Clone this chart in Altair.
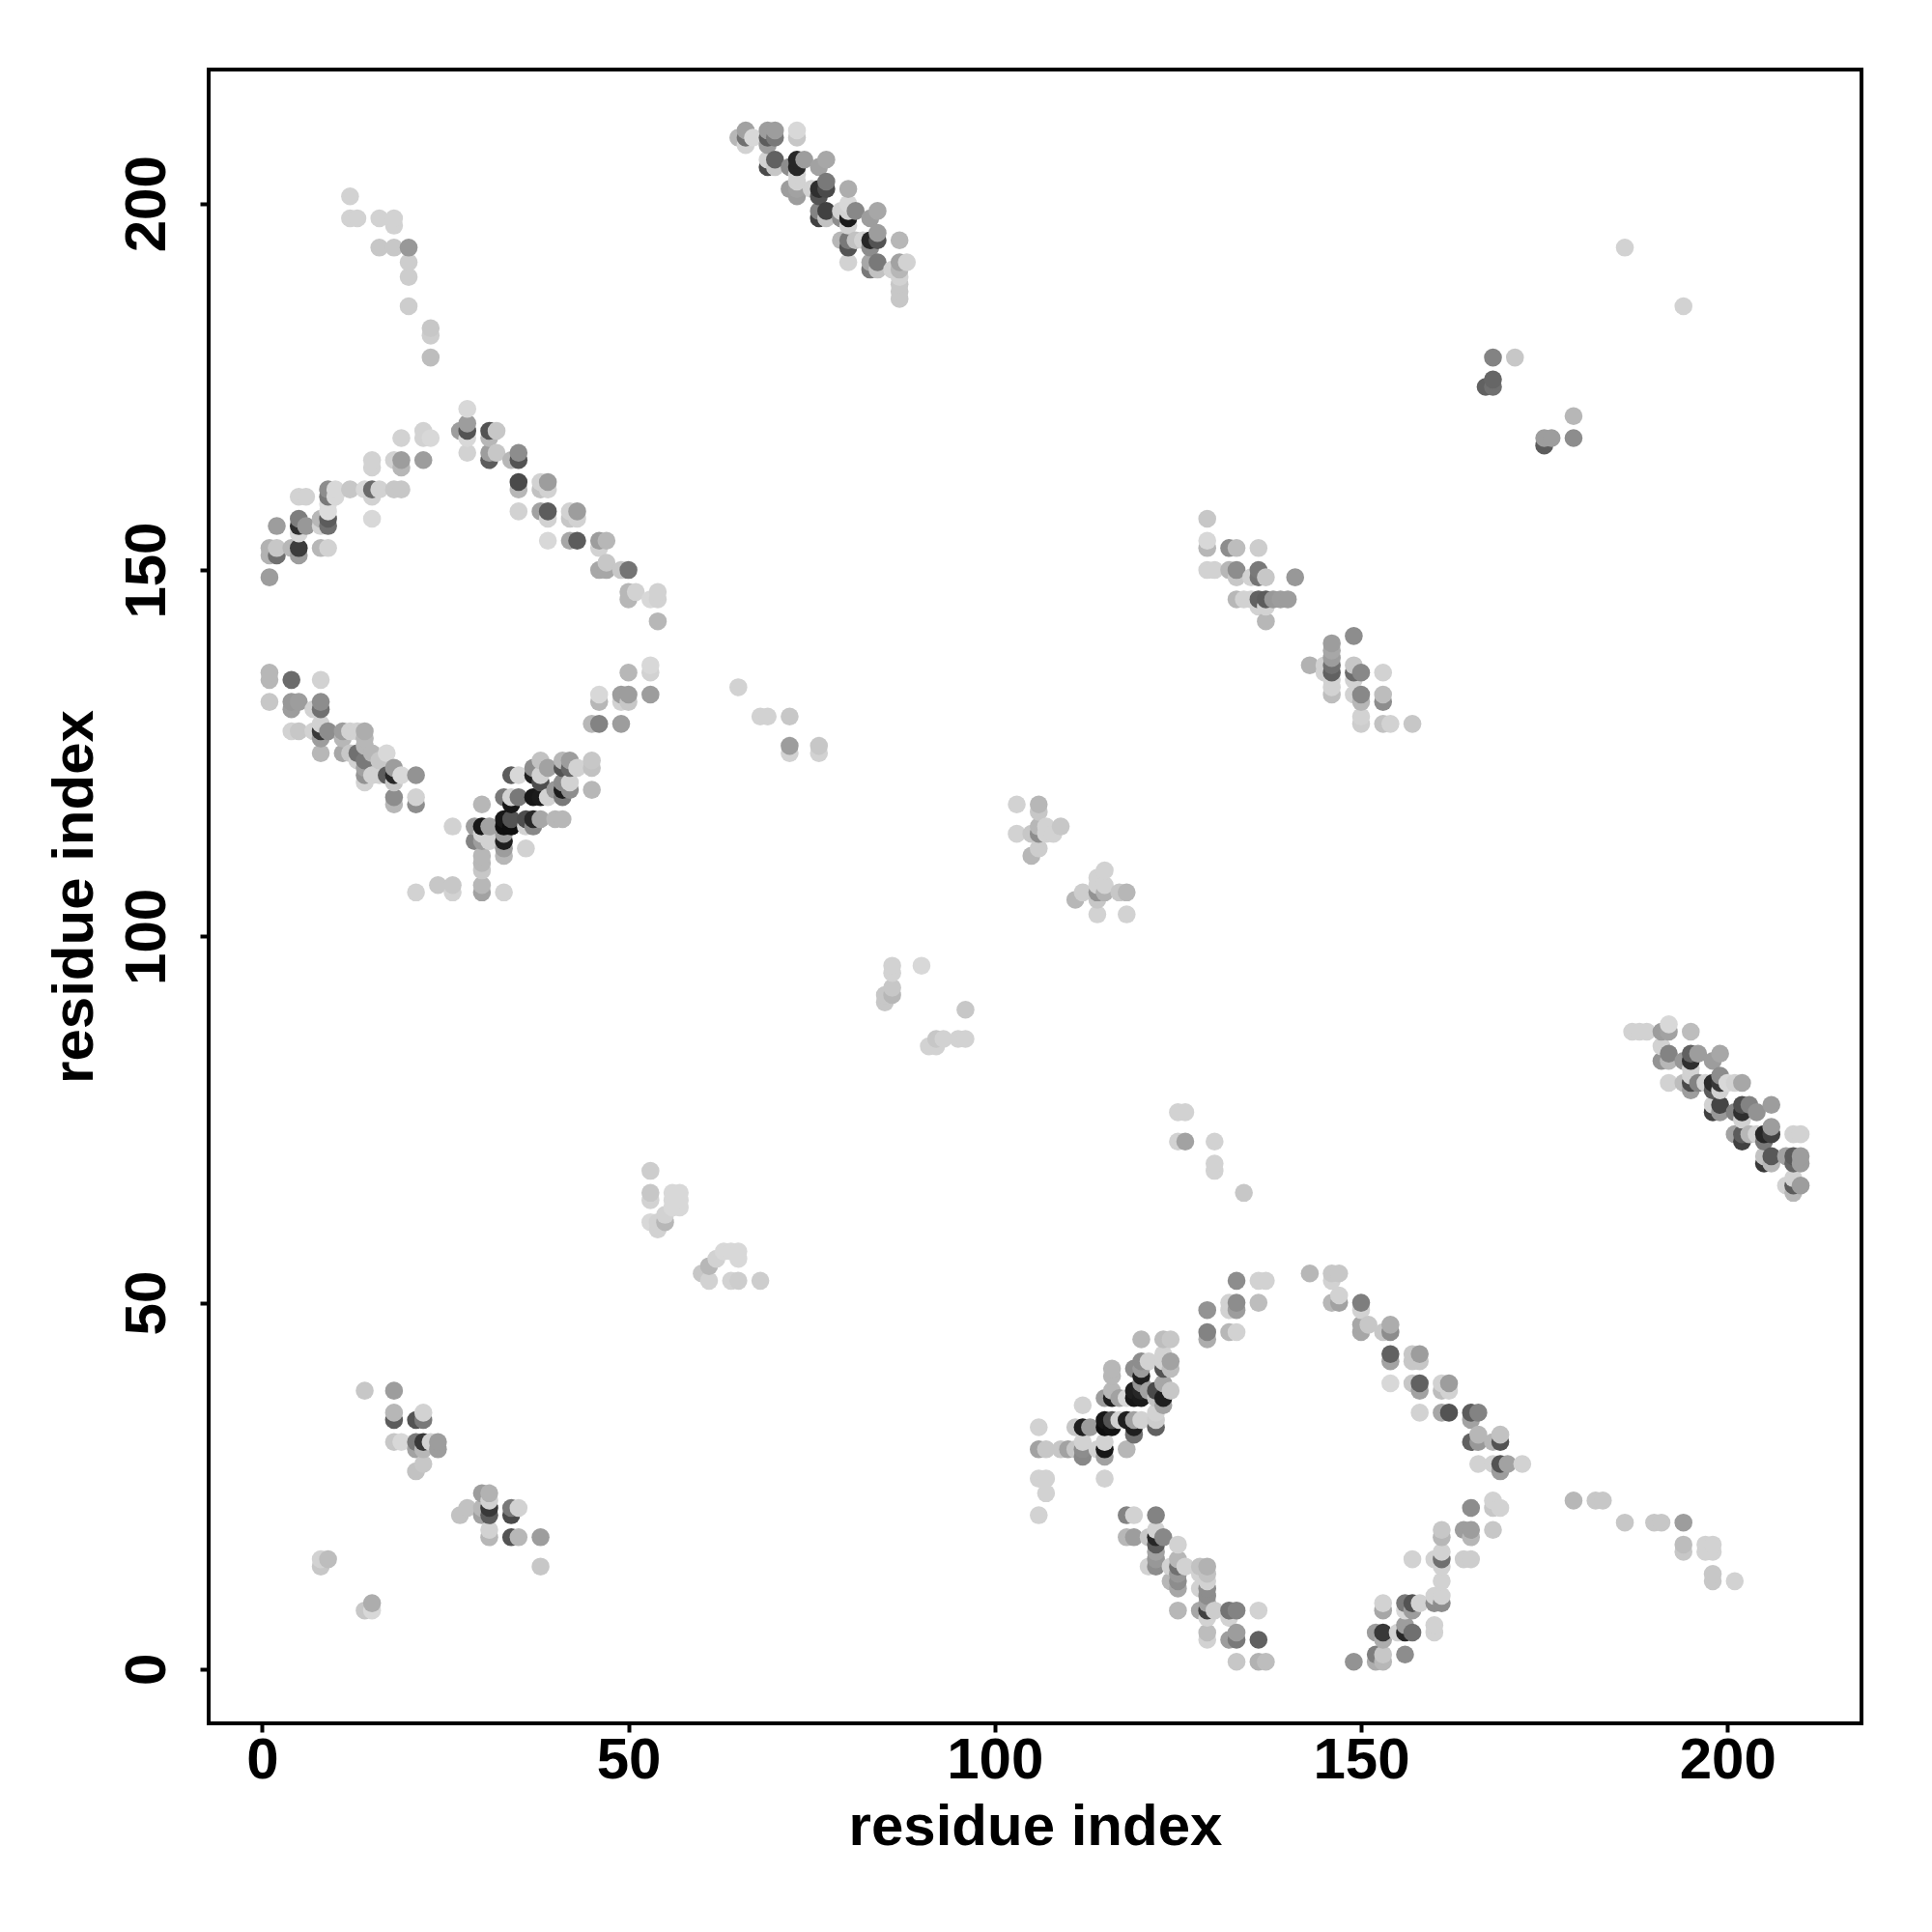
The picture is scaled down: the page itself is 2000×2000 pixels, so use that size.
import altair as alt
import pandas as pd

# (residue i, residue j, grey level 0-255)
upper_arc_left = [(1,149,165),(1,153,185),(2,153,205),(1,152,185),(2,152,120),(2,156,165),(5,153,65),(5,152,165),(4,153,190),
 (5,157,135),(5,156,50),(6,156,160),(5,155,220),(8,153,190),(9,153,215),(8,157,190),(9,157,100),(9,156,120),(9,158,225),(9,159,225),
 (8,156,215),(9,161,150),(9,160,130),(10,161,220),(10,160,220),(5,160,215),(6,160,215),(12,161,205),(14,161,220),(15,161,115),(16,161,215),
 (15,160,215),(15,157,220),(18,161,205),(19,161,205),(15,165,215),(15,164,215),(18,165,215),(19,165,165),(19,164,190),(19,168,215),
 (22,169,215),(22,168,215),(23,168,220),(22,165,165)]
upper_arc_right = [(28,172,220),(27,169,165),(28,170,165),(28,169,90),(28,168,220),(28,166,215),(31,169,90),(32,169,205),(31,168,190),
 (31,166,165),(32,166,205),(31,165,100),(34,165,190),(35,166,150),(35,165,90),(35,162,80),(35,161,190),(38,162,215),(39,162,165),
 (38,161,200),(39,161,215),(35,158,215),(38,158,170),(39,158,100),(39,157,215),(42,158,215),(43,158,165),(42,157,205),(43,157,215),
 (39,154,220),(42,154,175),(43,154,100),(46,154,165),(47,154,190),(46,153,215),(47,151,205),(46,150,175),(47,150,175),(49,150,205),
 (50,150,125),(50,147,190),(51,147,215),(50,146,190),(53,146,220),(54,147,215),(54,146,215),(54,143,190)]
lower_arc_left = [(1,136,190),(1,135,190),(4,135,115),(8,135,215),(1,132,205),(4,132,160),(5,132,165),(4,131,165),(7,131,215),(8,132,150),
 (8,131,120),(4,128,215),(5,128,205),(7,128,215),(8,128,60),(9,128,150),(8,129,215),(8,127,165),(8,125,190),(11,128,165),(12,128,215),
 (13,128,215),(14,128,180),(11,127,190),(14,127,190),(11,125,175),(12,125,205),(13,125,120),(14,126,190),(15,125,190),(17,125,220),
 (16,124,205),(13,124,215),(14,124,130),(14,123,170),(14,122,155),(14,121,215),(15,122,215),(16,122,215),(18,123,165),(17,122,100),(18,122,40),
 (19,122,220),(21,122,155),(18,121,205),(18,119,150),(18,118,190),(21,119,215),(21,118,150)]
lower_arc_right = [(26,115,215),(30,118,190),(29,115,165),(30,115,20),(31,115,170),(30,114,215),(29,113,140),(30,113,165),(31,113,215),
 (30,111,190),(30,110,190),(30,109,205),(30,107,190),(30,106,170),(33,115,10),(34,115,10),(33,116,20),(33,114,165),(33,113,30),(33,112,165),
 (33,111,190),(33,119,130),(34,118,20),(34,119,215),(35,119,130),(34,122,100),(35,122,220),(36,112,215),(34,116,90),(36,116,85),(37,115,145),
 (36,115,215),(37,116,40),(38,116,175),(40,116,190),(41,116,190),(37,123,150),(38,124,200),(39,123,170),(37,122,30),(38,122,215),(38,121,85),
 (37,119,20),(38,119,25),(39,119,215),(40,120,160),(41,119,130),(41,120,25),(42,120,150),(42,121,215),(41,121,150),(41,124,190),(42,124,165),
 (41,123,90),(42,123,110),(43,123,215),(45,124,205),(45,123,200),(45,120,190),(53,137,220),(53,136,215),(50,136,190),(46,133,220),(46,132,190),
 (49,133,165),(50,133,165),(49,132,215),(50,132,205),(53,133,165),(45,129,190),(46,129,140),(49,129,165),(21,106,215),(24,107,205),(26,107,205),
 (26,106,215),(33,106,215)]
upper_left_tail = [(12,201,215),(12,198,215),(13,198,215),(16,198,215),(18,198,215),(18,197,215),(16,194,205),(18,194,205),(20,194,160),
 (20,192,210),(20,190,210),(20,186,210),(23,183,205),(23,182,210),(23,179,195)]
top_band = [(65,209,190),(66,210,170),(66,209,120),(66,208,215),(67,209,220),(69,210,165),(70,210,165),(69,209,100),(70,209,130),(69,208,165),
 (73,210,220),(73,209,205),(70,206,105),(69,206,215),(69,205,80),(70,205,205),(72,205,150),(73,206,40),(74,206,165),(73,205,40),(73,204,215),
 (76,205,170),(77,206,175),(72,202,165),(73,202,170),(73,201,165),(73,203,215),(75,202,215),(76,202,50),(77,203,130),(77,202,80),(76,201,90),
 (80,202,180),(80,200,220),(76,199,140),(77,199,70),(76,198,70),(77,198,200),(79,199,215),(80,198,25),(81,199,145),(79,198,150),(80,197,215),
 (80,199,215),(83,198,165),(84,199,175),(79,195,190),(80,195,130),(80,194,90),(81,195,200),(82,195,215),(80,192,215),(83,195,40),(84,196,165),
 (84,195,90),(83,194,150),(87,195,190),(83,192,175),(84,192,130),(83,191,130),(84,191,200),(86,191,215),(87,192,170),(88,192,215),(87,191,190),
 (87,190,215),(87,189,205),(87,188,205),(87,187,205)]
right_band = [(187,87,215),(188,87,215),(189,87,215),(191,87,165),(192,88,220),(192,87,170),(195,87,195),(191,85,215),(192,84,140),(191,83,155),
 (192,83,190),(194,83,160),(195,84,105),(195,83,50),(196,84,165),(195,82,215),(198,83,165),(199,84,175),(192,80,215),(194,80,195),(195,81,215),
 (195,80,80),(195,79,165),(196,80,140),(197,80,215),(198,80,45),(198,79,100),(199,81,150),(199,80,60),(200,80,220),(199,79,215),(201,80,215),
 (202,80,175),(198,77,215),(198,76,70),(199,77,75),(199,76,160),(201,76,140),(202,77,85),(203,77,140),(202,76,50),(202,75,215),(204,76,155),
 (206,77,165),(201,73,170),(202,73,100),(202,72,70),(203,73,190),(204,73,215),(205,73,40),(205,72,130),(206,74,165),(206,73,70),(209,73,215),
 (210,73,215),(205,70,200),(205,69,60),(206,70,95),(206,69,190),(208,70,170),(209,70,100),(210,70,165),(209,69,110),(210,69,165),(208,66,215),
 (209,67,215),(209,66,100),(209,65,190),(210,66,165)]
lower_v_left_arm = [(133,53,150),(136,53,215),(137,53,215),(129,49,155),(132,50,215),(133,50,150),(133,49,165),(132,49,215),(136,50,195),(129,46,140),
 (129,45,180),(132,46,190),(133,46,215),(120,45,190),(123,45,195),(124,45,205),(123,43,215),(124,42,170),(124,41,195),(123,42,215),(123,41,90),
 (120,42,150),(121,42,215),(119,41,150),(120,41,165),(120,40,30),(120,39,155),(116,41,190),(116,40,190),(115,37,165),(116,38,190),(116,37,30),
 (117,37,170),(118,37,220),(119,37,20),(120,37,25),(121,38,170),(122,38,80),(123,39,175),(124,38,205),(123,37,30),(122,37,200),(123,36,170),
 (119,38,30),(120,38,40),(112,36,215),(106,33,215),(112,33,30),(111,33,205),(113,33,165),(115,34,20),(116,34,90),(115,33,10),(116,33,15),
 (117,34,215),(118,34,30),(119,34,170),(119,33,30),(120,34,215),(119,32,120),(122,35,215),(122,34,210),(122,33,105),(106,30,170),(107,30,205),
 (109,30,205),(110,30,170),(111,30,205),(112,30,150),(112,29,145),(112,31,215),(115,31,215),(115,30,20),(115,29,170),(118,30,190),(114,30,215),
 (106,26,215),(107,26,215),(107,24,215),(115,26,215),(106,21,215)]
lower_v_bottom_left = [(118,21,140),(119,21,215),(122,21,140),(118,18,190),(119,18,165),(121,18,205),(122,18,40),(123,18,145),(122,17,100),(122,19,215),
 (125,17,215),(122,16,170),(121,14,215),(122,14,150),(122,15,160),(124,14,215),(125,15,190),(125,14,120),(126,14,215),(125,13,160),(125,12,150),
 (124,12,190),(125,11,175),(128,14,200),(129,14,185),(129,13,200),(129,12,215),(128,13,215),(128,11,215),(129,11,150),(129,10,150),(129,9,170),
 (125,8,190),(128,8,175),(129,8,70),(130,8,210),(132,8,125),(133,8,140),(136,8,215),(129,7,215),(132,7,215),(129,5,195),(129,4,215),(132,4,165),
 (133,5,165),(133,4,130),(136,4,105),(133,1,205),(136,1,185),(137,1,195)]
lower_v_bottom_right = [(149,1,155),(152,2,135),(152,1,180),(153,2,205),(153,1,190),(156,2,150),(152,5,165),(153,5,60),(153,4,180),(155,5,215),
 (156,5,40),(157,5,120),(156,6,165),(153,9,215),(153,8,175),(156,9,130),(157,9,90),(157,8,165),(156,8,220),(158,9,215),(160,6,215),(160,5,215),
 (160,9,150),(161,9,150),(160,10,215),(161,10,215),(161,12,215),(157,15,215),(160,15,215),(161,16,215),(161,15,120),(161,14,215),(161,19,205),
 (161,18,190),(164,19,165),(165,19,165),(165,18,190),(168,19,205),(164,15,210),(165,15,210),(165,22,150),(168,23,215),(168,22,205),(169,22,215)]
lower_v_right_arm = [(143,54,190),(146,54,205),(147,54,205),(146,53,215),(146,50,190),(147,51,215),(147,50,170),(150,50,135),(150,49,215),(150,47,175),
 (151,47,205),(150,46,175),(153,46,205),(154,47,180),(154,46,150),(154,43,105),(154,42,170),(157,43,205),(158,43,165),(157,42,205),(158,42,205),
 (154,39,220),(157,39,205),(158,39,105),(158,38,170),(161,39,215),(162,39,165),(161,38,195),(162,38,215),(158,35,215),(161,35,175),(162,35,90),
 (165,35,100),(166,35,140),(165,34,170),(165,31,105),(166,32,190),(166,31,160),(168,31,190),(169,32,200),(169,31,90),(166,28,215),(168,28,215),
 (169,28,90),(170,28,170),(172,28,215),(169,27,165)]
mid_upper_right = [(129,157,205),(129,154,220),(129,153,190),(132,153,150),(133,153,195),(136,153,210),(129,150,215),(130,150,215),(132,150,190),
 (133,150,150),(133,149,205),(135,149,215),(136,150,130),(136,149,125),(137,149,205),(141,149,160),(133,146,190),(134,146,215),(135,146,215),
 (136,146,105),(137,146,100),(138,146,160),(139,146,165),(140,146,165),(136,145,215),(137,145,215),(137,143,190),(149,141,150),(146,140,165),
 (146,139,175),(146,138,165),(143,137,185),(145,137,215),(146,137,120),(146,136,105),(145,136,215),(146,135,215),(146,134,215),(146,133,195),
 (149,137,205),(149,136,115),(150,136,145),(153,136,215),(149,135,215),(149,133,215),(150,133,145),(150,132,190),(153,133,195),(153,132,150),
 (150,130,215),(150,129,210),(153,129,200),(154,129,215),(157,129,205)]
lower_left_patch = [(14,38,205),(18,38,165),(18,35,190),(18,34,100),(21,34,90),(22,35,215),(22,34,130),(18,31,205),(19,31,220),(21,31,130),(22,31,60),
 (23,31,215),(24,31,165),(24,30,165),(21,30,170),(22,30,190),(22,28,205),(21,27,200),(30,24,165),(31,24,185),(31,23,215),(27,21,200),(28,22,200),
 (30,21,170),(31,22,60),(31,21,100),(30,22,190),(34,22,130),(35,22,215),(34,21,80),(31,19,215),(31,18,190),(34,18,90),(35,18,190),(38,18,165),
 (38,14,205),(14,8,205),(15,9,180),(15,8,220),(8,14,205),(9,15,195),(8,15,215)]
centre_patch = [(103,118,215),(106,118,190),(106,117,205),(103,114,215),(105,114,205),(106,115,190),(106,114,150),(107,115,215),(107,114,215),(108,114,215),
 (109,115,205),(106,112,210),(105,111,190),(111,105,190),(112,106,210),(114,108,215),(115,109,215),(114,107,215),(115,107,215),(114,106,155),
 (115,106,185),(114,105,205),(114,103,215),(117,106,205),(118,106,190),(118,103,215)]
low_mid_patch = [(53,68,210),(53,65,205),(53,64,215),(53,61,220),(54,61,215),(55,61,190),(54,60,215),(56,65,220),(57,65,220),(56,64,220),(57,64,220),
 (56,63,220),(57,63,220),(55,62,215),(60,54,205),(61,55,190),(61,53,215),(62,56,215),(63,57,220),(64,57,220),(65,57,220),(65,56,220),(64,53,215),
 (65,53,210),(68,53,210)]
scattered = [(186,194,215),(194,186,215),(168,179,140),(171,179,205),(168,176,110),(167,175,105),(168,175,120),(179,171,190),(175,167,100),(175,168,165),
 (176,168,165),(179,168,150),(65,134,215),(68,130,215),(69,130,215),(72,130,205),(72,126,165),(72,125,215),(76,126,205),(76,125,215),(86,96,215),
 (86,95,215),(86,93,205),(85,92,205),(86,92,190),(85,91,205),(90,96,220),(96,90,205),(91,85,215),(92,86,205),(93,86,215),(95,86,215),(96,86,215),
 (92,85,215),(125,76,215),(126,76,215),(125,72,215),(126,72,170),(130,72,215),(130,69,215),(130,68,215),(134,65,205),(179,23,190),(182,23,205),
 (183,23,205),(186,20,205),(190,20,205),(191,20,205),(194,20,165),(194,17,195),(194,16,205),(197,17,215),(198,17,215),(197,16,215),(198,16,215),
 (198,13,205),(198,12,205),(201,12,215)]

clusters = [upper_arc_left, upper_arc_right, lower_arc_left, lower_arc_right, upper_left_tail, top_band, right_band,
            lower_v_left_arm, lower_v_bottom_left, lower_v_bottom_right, lower_v_right_arm, mid_upper_right,
            lower_left_patch, centre_patch, low_mid_patch, scattered]
rows = [p for c in clusters for p in c]
df = pd.DataFrame(rows, columns=["i", "j", "level"]).drop_duplicates(["i", "j"]).sort_values(["i", "j"])

ticks = [0, 50, 100, 150, 200]
font = "Liberation Sans"

common = dict(values=ticks, grid=False, domain=False, tickColor="black", tickWidth=4, tickSize=9,
              labelFont=font, labelFontSize=60, labelFontWeight="bold", labelColor="black",
              titleFont=font, titleFontSize=60, titleFontWeight="bold", titleColor="black")

chart = alt.Chart(df).mark_circle(size=345, opacity=1).encode(
    x=alt.X("i:Q", scale=alt.Scale(domain=[-7.3, 218.3], nice=False, zero=False),
            axis=alt.Axis(title="residue index", labelPadding=0, titlePadding=10, labelFlush=False, **common)),
    y=alt.Y("j:Q", scale=alt.Scale(domain=[-7.4, 218.3], nice=False, zero=False),
            axis=alt.Axis(title="residue index", labelAngle=270, labelAlign="center", labelBaseline="bottom",
                          labelPadding=24, titlePadding=14, **common)),
    color=alt.Color("level:Q", scale=alt.Scale(domain=[0, 255], range=["#000000", "#ffffff"]), legend=None),
).properties(
    width=1711, height=1712,
    autosize=alt.AutoSizeParams(type="none"),
    padding={"left": 208, "top": 64, "right": 60, "bottom": 200},
    background="white",
).configure_view(stroke="black", strokeWidth=4)

chart.save("out.html", embed_options={"renderer": "svg", "actions": False})
